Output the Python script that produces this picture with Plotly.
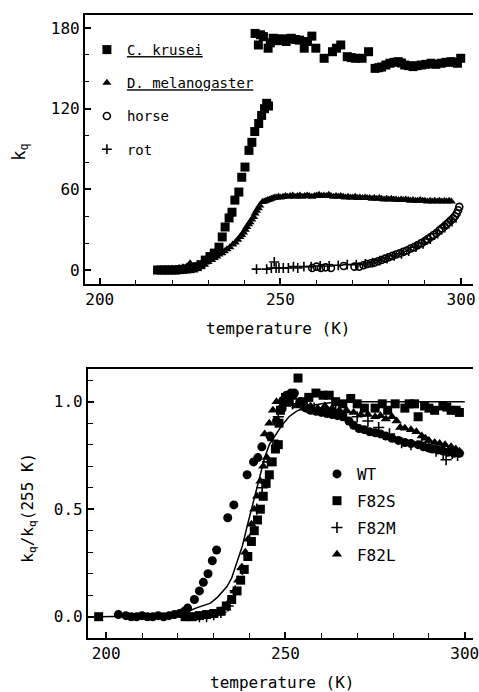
import plotly.graph_objects as go

# ---------------- data: top panel (k_q vs temperature) ----------------
krusei_T = [216, 217, 218, 219, 220, 221, 222, 223, 224, 225, 226, 227, 228,
            229.2, 230.5, 231.7, 233, 233.9, 234.7, 235.8, 236.6, 237.4, 238.5, 239.3,
            240.2, 241.3, 242.1, 242.9, 244, 244.8, 245.6, 246.2, 246.7,
            243, 243.9, 244.5, 245.3, 246.6, 247.2, 248, 249, 249.8, 250.7, 251.6, 252.3, 253,
            254.2, 255.3, 256.6, 257.5, 258.7, 259.8, 262.1, 264.4, 265.5, 266.7, 268.5, 269.6,
            270.8, 272.6, 274.4, 276.2, 277.2, 278, 279.2, 280.3, 281.5, 282.6, 283.5, 284.4,
            285.5, 286.7, 287.8, 289, 290.3, 291.7, 293, 294.5, 295.8, 297.2, 298.3, 299, 299.9]
krusei_k = [0, 0, 0, 0, 0, 0, 0.3, 0.5, 0.8, 1, 1.5, 2.5, 4,
            7.4, 10, 12.6, 17, 24.6, 32, 38.7, 43, 52, 58, 69,
            76.6, 89, 95, 103, 109, 115, 120, 124, 122,
            176, 167.4, 175, 173.6, 165, 169, 172.4, 170.6, 172, 171, 170, 172, 172.4,
            171.5, 171, 165, 170, 174, 165, 157.5, 162.4, 165, 167.4, 158.7, 158,
            157.5, 157.5, 162.4, 150, 150.5, 151, 152.5, 153.8, 154.5, 155, 154, 152.5,
            152, 151.3, 152, 152.5, 153, 153.8, 153, 153.8, 154.5, 155, 154.5, 153.8, 157.5]

melano_T = [216, 217, 218, 219, 220, 221, 222, 223, 224, 225, 226, 227, 228, 229, 230,
            231, 231.7, 232.4, 233, 233.8, 234.5, 235.2, 236, 236.8, 237.5, 238.2, 238.8,
            239.3, 239.8, 240.3, 240.7, 241.2, 241.6, 242.1, 242.6, 243, 243.4, 243.9,
            244.3, 245, 245.5, 246, 246.5, 247, 247.5, 248, 248.5, 249, 249.5, 250, 250.7,
            251.4, 252, 252.7, 253.4, 254, 254.7, 255.4, 256, 256.7, 257.4, 258, 258.7,
            259.4, 260, 260.7, 261.4, 262, 262.7, 263.4, 264, 264.7, 265.4, 266, 266.7,
            267.4, 268, 268.7, 269.4, 270, 270.7, 271.4, 272, 272.7, 273.4, 274, 274.7,
            275.4, 276, 276.7, 277.4, 278, 278.7, 279.4, 280, 280.7, 281.4, 282, 282.7,
            283.4, 284, 284.7, 285.4, 286, 286.7, 287.4, 288, 288.7, 289.4, 290, 290.7,
            291.4, 292, 292.7, 293.4, 294, 294.7, 295.4, 296, 296.7, 297.3]
melano_k = [0, 0, 0.5, 0.5, 1, 1, 1.5, 2, 2.5, 5, 2.5, 3, 3.5, 4, 6,
            7.5, 9, 10, 11.5, 12.5, 14, 15.5, 17, 19, 20.5, 22.5, 24.6,
            26, 28, 30, 32, 34, 35.5, 37.5, 39.4, 42, 44, 46,
            48, 50.6, 51, 51.5, 52, 52.5, 53, 53.6, 54, 54, 54.5, 54, 54.5,
            55, 54.5, 55, 55.5, 54.5, 55, 55.5, 54.5, 55, 55.5, 55, 54.5,
            55, 55.5, 56, 55, 55.5, 55, 56, 55, 54.5, 55, 54.5, 55,
            54.5, 54, 54.5, 54, 54, 54.5, 53.5, 54, 53.5, 54, 53.5, 53.5,
            53, 53.5, 53, 53.5, 53, 52.5, 53, 52.5, 53, 52.5, 52.5, 52,
            52.5, 52, 52.5, 52, 51.5, 52, 51.5, 51.5, 52, 51.5, 51.5, 51,
            51.5, 51, 51.5, 51, 51.5, 51, 51.5, 51, 51.5, 51]

horse_T = [258.8, 260, 261.2, 262.5, 264, 267.5, 270.5, 271.8, 273, 274, 275, 276, 277,
           278, 279, 280, 281, 282, 283, 284, 285, 286, 287, 288, 289, 290, 290.8, 291.6,
           292.4, 293.2, 294, 294.7, 295.4, 296, 296.6, 297.2, 297.8, 298.3, 298.8, 299.2, 299.5]
horse_k = [1.5, 2.5, 1.5, 2, 1.5, 3, 2.5, 2.5, 3.5, 4.5, 5, 5.5, 6.5,
           7.5, 8.5, 9.5, 10.5, 11.5, 12.5, 13.5, 14.5, 16, 17, 18.5, 20, 21.5, 23, 24.5,
           26, 27.5, 29.5, 31, 32.5, 34, 35.5, 37, 38.5, 40, 42, 44.5, 47]

rot_T = [243.4, 246.2, 247.5, 248.3, 248.8, 249.6, 250.8, 252.2, 253.6, 254.8, 256.5,
         258.5, 261, 263.5, 266, 268.5, 271, 273.5, 275.5, 277.5, 279.5, 281.5, 283.5,
         285.5, 287.5, 289.5, 291.5, 293.5, 295.5, 297.5]
rot_k = [0.7, 0.7, 1.5, 6, 1.5, 1.5, 1.5, 1.5, 2.5, 1.5, 2.5,
         2.5, 3, 3, 3.5, 4, 4, 4.5, 5.5, 7, 8.5, 10.5, 12,
         14, 17, 19.5, 23, 27, 31.5, 36]

# ---------------- data: bottom panel (normalised k_q) ----------------
wt_T = [203.4, 205.5, 207, 208.5, 210, 211.5, 213, 214.5, 216, 217.5, 219, 220.5, 221.8,
        222.7, 224.6, 226, 227.1, 228.4, 229.6, 230.8, 233.9, 235.6, 239.3, 241.1, 242.3,
        243.4, 245.7, 247.5, 249, 250.3, 251.5, 252.5, 254, 255.8, 257, 258.5, 260, 261.5,
        263, 264.5, 266, 267.7, 269, 270.5, 272, 273.5, 275, 276.5, 278, 279.7, 281.5,
        283.3, 285, 287, 288.5, 289.8, 291, 292.5, 294, 295.3, 297, 298.5]
wt_r = [0.01, 0.005, 0, 0, 0.005, 0, 0, 0.005, 0, 0.005, 0.01, 0.015, 0.025,
        0.04, 0.08, 0.12, 0.16, 0.2, 0.26, 0.31, 0.46, 0.52, 0.66, 0.72, 0.74,
        0.79, 0.84, 0.91, 0.97, 1.03, 1.04, 1.04, 1.0, 0.97, 0.96, 0.955, 0.95, 0.945,
        0.94, 0.935, 0.93, 0.91, 0.89, 0.875, 0.87, 0.86, 0.855, 0.85, 0.84, 0.83, 0.82,
        0.81, 0.805, 0.8, 0.79, 0.785, 0.78, 0.775, 0.77, 0.765, 0.76, 0.76]

f82s_T = [197.9, 222, 224, 226, 228, 230, 232, 233.5, 235, 236.5, 237.5, 238.5, 239.5,
          240.5, 241.3, 242.2, 243, 243.8, 244.6, 245.5, 246.3, 247.2, 248, 248.2, 248.6,
          249.5, 250, 251, 252, 253.5, 255, 256.5, 258.5, 260.5, 262.2, 264, 266, 268.2,
          270, 272, 275, 277, 278.5, 280.6, 283.3, 284.5, 286, 287, 288.8, 290, 291.6,
          293.9, 295, 296.2, 297.6, 298.5]
f82s_r = [0, 0, 0, 0.005, 0.01, 0.015, 0.025, 0.05, 0.08, 0.12, 0.17, 0.22, 0.28,
          0.35, 0.4, 0.45, 0.5, 0.56, 0.62, 0.66, 0.72, 0.78, 0.8, 0.9, 0.96,
          1.0, 1.02, 1.0, 1.03, 1.11, 1.0, 1.02, 1.04, 1.03, 1.03, 1.0, 0.99, 1.015,
          0.99, 0.97, 0.97, 0.99, 0.96, 0.99, 0.97, 0.99, 0.99, 0.93, 0.98, 0.97, 0.96,
          0.98, 0.975, 0.96, 0.96, 0.95]

f82m_T = [226, 228, 230, 232, 234, 236, 238, 240, 242, 243.5, 245, 246.5, 248, 250, 252,
          255, 258, 261, 264, 267, 270, 273, 276, 279, 282.4, 285, 288, 290, 292, 294,
          294.8, 296.5, 298]
f82m_r = [0, 0, 0.01, 0.02, 0.05, 0.12, 0.22, 0.36, 0.5, 0.6, 0.72, 0.82, 0.93, 0.98, 0.99,
          0.98, 0.97, 0.97, 0.96, 0.95, 0.93, 0.91, 0.88, 0.85, 0.81, 0.8, 0.81, 0.79, 0.77,
          0.76, 0.73, 0.76, 0.75]

f82l_T = [224, 226, 228, 230, 232, 233.5, 234.8, 235.8, 236.8, 237.8, 238.8, 239.6, 240.5,
          241.3, 242.1, 243, 243.8, 244.2, 244.8, 245.5, 246.5, 247.5, 249, 251, 253, 255,
          257, 259, 261, 263, 265, 267, 269, 271, 273, 275, 276.5, 278, 279.7, 281, 282,
          283.3, 285, 286.5, 288, 289, 290, 291.6, 293, 294.5, 296.2, 297.5, 298.5]
f82l_r = [0, 0, 0.005, 0.01, 0.02, 0.04, 0.08, 0.12, 0.17, 0.23, 0.3, 0.36, 0.43,
          0.5, 0.56, 0.63, 0.7, 0.85, 0.74, 0.9, 0.96, 1.0, 1.01, 0.99, 0.98, 0.97,
          0.98, 0.97, 0.98, 0.97, 0.96, 0.96, 0.95, 0.94, 0.94, 0.93, 0.935, 0.92, 0.93, 0.91, 0.88,
          0.876, 0.87, 0.86, 0.84, 0.83, 0.82, 0.81, 0.805, 0.8, 0.79, 0.78, 0.77]

fit_T = [198, 215, 220, 223.6, 225, 227, 229.1, 231, 233.7, 235, 236.5, 238, 239.3, 240.5,
         242, 243, 244.2, 245.5, 247.5, 249, 251, 253, 255, 257, 260, 265, 270, 280, 290, 300]
fit_r = [0, 0.005, 0.015, 0.03, 0.04, 0.05, 0.063, 0.09, 0.14, 0.18, 0.25, 0.33, 0.42, 0.5,
         0.6, 0.67, 0.74, 0.8, 0.85, 0.89, 0.93, 0.955, 0.97, 0.98, 0.99, 1.0, 1.0, 1.0, 1.0, 1.0]

x_ticks = [200, 250, 300]
x_ticktext = ["200", "250", "300"]
top_yticks = [0, 60, 120, 180]
top_yticktext = ["0", "60", "120", "180"]
bot_yticks = [0, 0.5, 1.0]
bot_yticktext = ["0.0", "0.5", "1.0"]

# ---------------- figure ----------------
W, H = 479, 692
FONT = "DejaVu Sans Mono"
fig = go.Figure()

def px_x(p):
    return p / W

def px_y(p):
    return 1 - p / H

# top panel traces
fig.add_trace(go.Scatter(x=krusei_T, y=krusei_k, mode="markers", name="<u>C. krusei</u>",
                         legendgroup="a", legend="legend",
                         marker=dict(symbol="square", size=9, color="black"),
                         xaxis="x", yaxis="y"))
fig.add_trace(go.Scatter(x=melano_T, y=melano_k, mode="markers", name="<u>D. melanogaster</u>",
                         legendgroup="b", legend="legend",
                         marker=dict(symbol="triangle-up", size=8, color="black"),
                         xaxis="x", yaxis="y"))
fig.add_trace(go.Scatter(x=horse_T, y=horse_k, mode="markers", name="horse",
                         legendgroup="c", legend="legend",
                         marker=dict(symbol="circle-open", size=7, color="black",
                                     line=dict(width=1.6, color="black")),
                         xaxis="x", yaxis="y"))
fig.add_trace(go.Scatter(x=rot_T, y=rot_k, mode="markers", name="rot",
                         legendgroup="d", legend="legend",
                         marker=dict(symbol="cross-thin", size=7, color="black",
                                     line=dict(width=1.6, color="black")),
                         xaxis="x", yaxis="y"))

# bottom panel traces
fig.add_trace(go.Scatter(x=fit_T, y=fit_r, mode="lines", showlegend=False,
                         line=dict(color="black", width=1.5),
                         xaxis="x2", yaxis="y2"))
fig.add_trace(go.Scatter(x=wt_T, y=wt_r, mode="markers", name="WT", legend="legend2",
                         legendgroup="e",
                         marker=dict(symbol="circle", size=9, color="black"),
                         xaxis="x2", yaxis="y2"))
fig.add_trace(go.Scatter(x=f82s_T, y=f82s_r, mode="markers", name="F82S", legend="legend2",
                         legendgroup="f",
                         marker=dict(symbol="square", size=9, color="black"),
                         xaxis="x2", yaxis="y2"))
fig.add_trace(go.Scatter(x=f82m_T, y=f82m_r, mode="markers", name="F82M", legend="legend2",
                         legendgroup="g",
                         marker=dict(symbol="cross-thin", size=8, color="black",
                                     line=dict(width=1.6, color="black")),
                         xaxis="x2", yaxis="y2"))
fig.add_trace(go.Scatter(x=f82l_T, y=f82l_r, mode="markers", name="F82L", legend="legend2",
                         legendgroup="h",
                         marker=dict(symbol="triangle-up", size=9, color="black"),
                         xaxis="x2", yaxis="y2"))

axis_common = dict(showgrid=False, zeroline=False, showline=True, linecolor="black",
                   linewidth=2, ticks="inside", tickcolor="black", tickwidth=1.5,
                   ticklen=6, ticklabeloverflow="allow",
                   tickfont=dict(family=FONT, size=16, color="black"))

fig.update_layout(
    width=W, height=H, margin=dict(l=0, r=0, t=0, b=0),
    paper_bgcolor="white", plot_bgcolor="white",
    xaxis=dict(domain=[px_x(86), 1], range=[195.9, 303.3], anchor="y", mirror=True,
               tickvals=x_ticks, ticktext=x_ticktext,
               minor=dict(dtick=10, tick0=200, ticks="inside", ticklen=4, tickcolor="black", tickwidth=1.2),
               **axis_common),
    yaxis=dict(domain=[px_y(284), px_y(15)], range=[-10.4, 189.7], anchor="x", mirror=False,
               tickvals=top_yticks, ticktext=top_yticktext,
               minor=dict(dtick=20, tick0=0, ticks="inside", ticklen=4, tickcolor="black", tickwidth=1.2),
               **axis_common),
    xaxis2=dict(domain=[px_x(89), 1], range=[194.9, 302.3], anchor="y2", mirror=True,
                tickvals=x_ticks, ticktext=x_ticktext,
                minor=dict(dtick=10, tick0=200, ticks="inside", ticklen=5, tickcolor="black", tickwidth=1.2),
                **axis_common),
    yaxis2=dict(domain=[px_y(638), px_y(369)], range=[-0.099, 1.152], anchor="x2", mirror=False,
                tickvals=bot_yticks, ticktext=bot_yticktext,
                minor=dict(dtick=0.1, tick0=0, ticks="inside", ticklen=5, tickcolor="black", tickwidth=1.2),
                **axis_common),
    legend=dict(x=px_x(88), y=px_y(34), xanchor="left", yanchor="top",
                bgcolor="rgba(0,0,0,0)", traceorder="grouped", tracegroupgap=12,
                font=dict(family=FONT, size=14, color="black"), itemsizing="trace"),
    legend2=dict(x=px_x(321), y=px_y(457), xanchor="left", yanchor="top",
                 bgcolor="rgba(0,0,0,0)", traceorder="grouped", tracegroupgap=3,
                 font=dict(family=FONT, size=16, color="black"), itemsizing="trace"),
    showlegend=True,
)

ann_font = dict(family=FONT, size=16, color="black")
fig.add_annotation(text="temperature (K)", x=px_x(282), y=px_y(328), xref="paper", yref="paper",
                   showarrow=False, font=ann_font, xanchor="center", yanchor="middle")
fig.add_annotation(text="k<sub>q</sub>", x=px_x(20), y=px_y(152), xref="paper", yref="paper",
                   showarrow=False, font=dict(family=FONT, size=17, color="black"),
                   textangle=-90, xanchor="center", yanchor="middle")
fig.add_annotation(text="temperature (K)", x=px_x(286), y=px_y(682), xref="paper", yref="paper",
                   showarrow=False, font=ann_font, xanchor="center", yanchor="middle")
fig.add_annotation(text="k<sub>q</sub>/k<sub>q</sub>(255 K)", x=px_x(28), y=px_y(508),
                   xref="paper", yref="paper", showarrow=False, font=ann_font,
                   textangle=-90, xanchor="center", yanchor="middle")

fig.write_html("out.html",
               post_script="document.body.style.margin='0';document.body.style.overflow='hidden';")
